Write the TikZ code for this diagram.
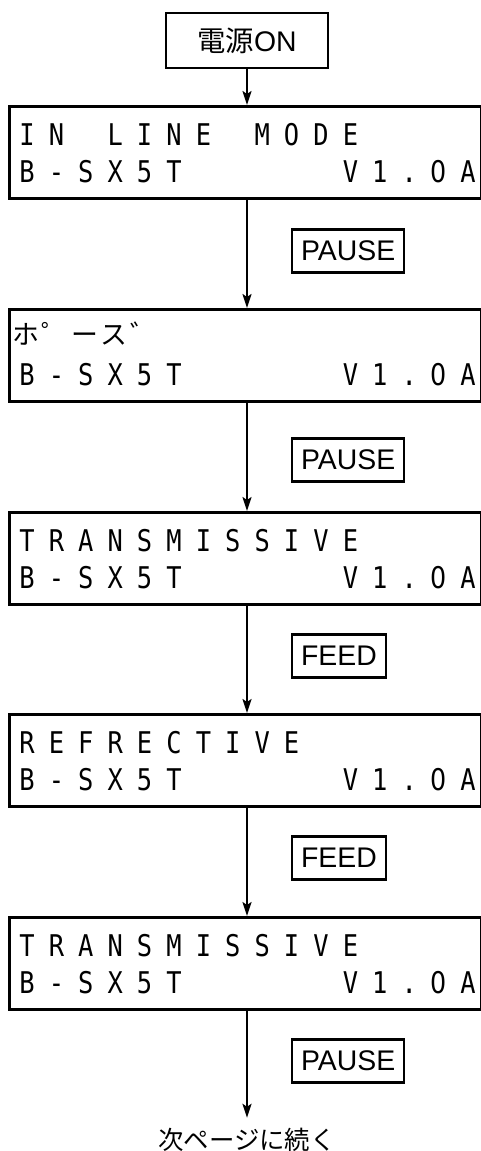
\documentclass[tikz,border=0pt]{standalone}
\usepackage{fontspec}
\setmainfont{Liberation Sans}
\newfontfamily\jpfont{Noto Sans CJK JP}
\newfontfamily\lcdfont[FakeStretch=0.85]{DejaVu Sans Mono}
\newfontfamily\lcdzero[FakeStretch=0.85]{DejaVu Sans}
\usetikzlibrary{arrows.meta,calc}

% one row of the display: [style]{box}{row name}{offset from top}{characters}
\newcommand{\lcdrow}[5][]{%
  \foreach \ch [count=\k from 0] in {#5}
    \node[lcdchar,#1] (#2#3\k) at ($(#2.north west)+(19+29.4*\k,#4)$) {\ch};%
}

\begin{document}
\begin{tikzpicture}[x=1bp, y=-1bp,
    lcd/.style={draw, line width=2.6bp, minimum width=472bp, minimum height=92bp,
      inner sep=0pt, anchor=north west},
    lcdchar/.style={inner sep=0pt, text height=22bp, text depth=0pt,
      font=\lcdfont\fontsize{30}{30}\selectfont},
    kana/.style={xshift=-1bp, font=\jpfont\fontsize{27}{27}\selectfont},
    keybox/.style={draw, line width=2.2bp, anchor=west, inner xsep=9bp,
      minimum height=43bp, font=\fontsize{28.5}{30}\selectfont},
    flow/.style={line width=2bp, -{Stealth[length=14bp, width=9bp, inset=3bp]}}]

  \useasboundingbox (0,0) rectangle (481,1151);

  % power on
  \node[draw, line width=2.6bp, minimum width=162bp, minimum height=55bp,
    font=\fontsize{28.5}{30}\selectfont] (pwr) at (247,40.5) {{\jpfont 電源}ON};

  % display screens, 202.75 apart
  \node[lcd] (lcd1) at (8,105) {};
  \node[lcd] (lcd2) at (8,308) {};
  \node[lcd] (lcd3) at (8,511) {};
  \node[lcd] (lcd4) at (8,713) {};
  \node[lcd] (lcd5) at (8,916) {};

  \lcdrow{lcd1}{a}{29}{I,N,{},L,I,N,E,{},M,O,D,E}
  \lcdrow[kana]{lcd2}{a}{25}{ホ,゜,ー,ス,゛}
  \lcdrow{lcd3}{a}{29}{T,R,A,N,S,M,I,S,S,I,V,E}
  \lcdrow{lcd4}{a}{29}{R,E,F,R,E,C,T,I,V,E}
  \lcdrow{lcd5}{a}{29}{T,R,A,N,S,M,I,S,S,I,V,E}
  \foreach \b in {lcd1,lcd2,lcd3,lcd4,lcd5}{
    \lcdrow{\b}{b}{66}{B,-,S,X,5,T,{},{},{},{},{},V,1,.,{\lcdzero 0},A}
  }

  % keys pressed between screens
  \node[keybox] (key1) at (291,251) {PAUSE};
  \node[keybox] (key2) at (291,460) {PAUSE};
  \node[keybox] (key3) at (291,656) {FEED};
  \node[keybox] (key4) at (291,858) {FEED};
  \node[keybox] (key5) at (291,1061) {PAUSE};

  % continued
  \node[inner xsep=0pt, inner ysep=10bp, text height=21bp, text depth=4bp,
    font=\jpfont\fontsize{25.5}{25.5}\selectfont] (next) at (247,1140.5) {次ページに続く};

  % connectors
  \draw[flow] (pwr.south) -- (pwr |- lcd1.north);
  \draw[flow] (lcd1.south -| pwr) -- (lcd2.north -| pwr);
  \draw[flow] (lcd2.south -| pwr) -- (lcd3.north -| pwr);
  \draw[flow] (lcd3.south -| pwr) -- (lcd4.north -| pwr);
  \draw[flow] (lcd4.south -| pwr) -- (lcd5.north -| pwr);
  \draw[flow] (lcd5.south -| pwr) -- (next.north);
\end{tikzpicture}
\end{document}
